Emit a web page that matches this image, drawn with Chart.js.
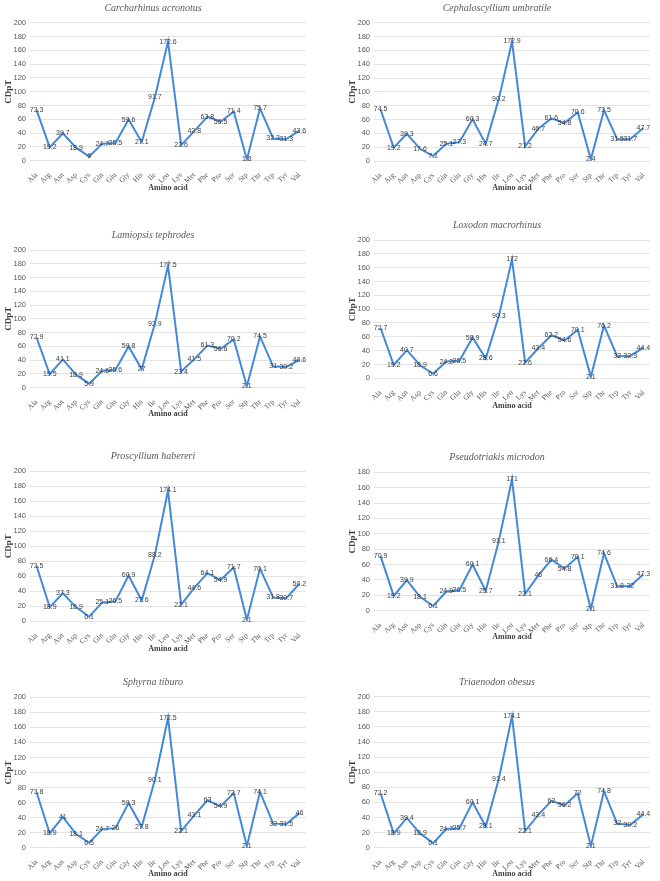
<!DOCTYPE html>
<html>
<head>
<meta charset="utf-8">
<script src="https://cdn.jsdelivr.net/npm/chart.js@4.4.1/dist/chart.umd.min.js"></script>
<style>
  body { margin: 0; background: #fff; }
  #page { position: relative; width: 660px; height: 881px; overflow: hidden; }
  canvas { position: absolute; }
</style>
</head>
<body>
<div id="page"></div>
<script>
const aminoAcids = ["Ala", "Arg", "Asn", "Asp", "Cys", "Gln", "Glu", "Gly", "His", "Ile", "Leu",
  "Lys", "Met", "Phe", "Pro", "Ser", "Stp", "Thr", "Trp", "Tyr", "Val"];

const speciesNames = ["Carcharhinus acronotus", "Cephaloscyllium umbratile", "Lamiopsis tephrodes",
  "Loxodon macrorhinus", "Proscyllium habereri", "Pseudotriakis microdon", "Sphyrna tiburo",
  "Triaenodon obesus"];

const carcharhinus = [73.3, 19.2, 39.7, 18.9, 6, 24.7, 25.5, 59.6, 27.1, 91.7, 172.6, 22.6, 42.8, 63.8, 56.5, 71.4, 1.8, 75.7, 32.3, 31.3, 43.6];
const cephaloscyllium = [74.5, 19.2, 39.3, 17.6, 7.1, 25.1, 27.3, 60.3, 24.7, 90.2, 172.9, 21.2, 46.7, 61.6, 54.8, 70.6, 2.4, 73.5, 31.5, 31.7, 47.7];
const lamiopsis = [72.9, 19.5, 41.1, 18.9, 5.9, 24.6, 25.6, 59.8, 27, 92.9, 177.5, 23.4, 41.5, 61.3, 56.6, 70.2, 2.1, 74.5, 31, 30.2, 40.6];
const loxodon = [72.7, 19.2, 40.7, 18.9, 6.6, 24.2, 25.5, 58.9, 28.6, 90.3, 172, 22.6, 43.4, 62.2, 54.6, 70.1, 2.1, 76.2, 32, 32.3, 44.4];
const proscyllium = [73.5, 18.9, 37.3, 18.9, 6.1, 25.1, 26.5, 60.9, 27.6, 88.2, 174.1, 22.1, 44.6, 64.1, 54.9, 71.7, 2.1, 70.1, 31.8, 30.7, 50.2];
const pseudotriakis = [70.9, 19.2, 39.9, 18.1, 6.1, 24.9, 26.5, 60.1, 25.7, 91.1, 171, 22.1, 46, 66.4, 54.8, 70.1, 2.1, 74.6, 31.8, 32, 47.3];
const sphyrna = [73.8, 18.9, 41, 18.1, 6.5, 24.7, 26, 59.3, 27.8, 90.1, 172.5, 22.1, 43.1, 63, 54.9, 72.7, 2.1, 74.1, 32, 31.5, 46];
const triaenodon = [72.2, 18.9, 39.4, 18.9, 6.1, 24.7, 25.7, 60.1, 28.1, 91.4, 174.1, 22.1, 43.4, 62, 56.2, 72, 2.1, 74.8, 32, 30.2, 44.4];

const seriesList = [carcharhinus, cephaloscyllium, lamiopsis, loxodon, proscyllium, pseudotriakis, sphyrna, triaenodon];
const yMaxList = [200, 200, 200, 200, 200, 180, 200, 200];

// where each panel sits on the page: column, title centre, plot top, plot bottom, x title centre
const panelLayout = [
  [0, 7.5, 22.7, 160.7, 187.7],
  [1, 8, 22.7, 161, 188.3],
  [0, 235, 250, 387.7, 414],
  [1, 225, 240, 378.3, 406],
  [0, 455.7, 471, 621.3, 649],
  [1, 457.3, 472.3, 610.7, 637],
  [0, 682.3, 697.3, 847.7, 874.3],
  [1, 682.3, 696.7, 847.7, 874.3],
];

const columnLeft = [0, 344];
const canvasWidth = 310;
const padRight = 4;
const yAxisWidth = 30;

Chart.defaults.font.family = "'Liberation Sans', Arial, sans-serif";

const pointLabels = {
  id: "pointLabels",
  afterDatasetsDraw(chart) {
    const ctx = chart.ctx;
    const meta = chart.getDatasetMeta(0);
    const values = chart.data.datasets[0].data;
    ctx.save();
    ctx.font = "7px 'Liberation Sans', Arial, sans-serif";
    ctx.fillStyle = "#404040";
    ctx.textAlign = "center";
    ctx.textBaseline = "middle";
    meta.data.forEach((pt, i) => ctx.fillText(String(values[i]), pt.x, pt.y));
    ctx.restore();
  },
};

function drawPanel(index) {
  const [col, titleY, plotTop, plotBottom, xTitleY] = panelLayout[index];
  const top = Math.round(titleY - 6);
  const bottom = Math.round(xTitleY + 6.8);
  const canvas = document.createElement("canvas");
  canvas.width = canvasWidth;
  canvas.height = bottom - top;
  canvas.style.left = columnLeft[col] + "px";
  canvas.style.top = top + "px";
  document.getElementById("page").appendChild(canvas);

  new Chart(canvas, {
    type: "line",
    data: {
      labels: aminoAcids,
      datasets: [
        {
          data: seriesList[index],
          borderColor: "#4389d9",
          borderWidth: 2,
          pointRadius: 0,
          tension: 0,
        },
      ],
    },
    options: {
      responsive: false,
      animation: false,
      layout: { padding: { left: 0, right: padRight, top: 0, bottom: 0 } },
      plugins: {
        legend: { display: false },
        tooltip: { enabled: false },
        title: {
          display: true,
          text: speciesNames[index],
          color: "#595959",
          font: { family: "'Liberation Serif', serif", style: "italic", size: 10, weight: "normal" },
          padding: { top: 0, bottom: plotTop - top - 12 },
        },
      },
      scales: {
        x: {
          offset: true,
          grid: { display: false },
          border: { display: false },
          ticks: {
            autoSkip: false,
            minRotation: 45,
            maxRotation: 45,
            padding: 2,
            color: "#595959",
            font: { family: "'Liberation Serif', serif", size: 7.5 },
          },
          title: {
            display: true,
            text: "Amino acid",
            color: "#404040",
            font: { family: "'Liberation Serif', serif", size: 8, weight: "bold" },
            padding: { top: 0, bottom: 2 },
          },
          afterFit: (scale) => {
            scale.height = bottom - plotBottom;
          },
        },
        y: {
          min: 0,
          max: yMaxList[index],
          grid: { color: "#e4e4e4", drawTicks: false },
          border: { display: false },
          ticks: {
            stepSize: 20,
            padding: 4,
            color: "#595959",
            font: { size: 7.5 },
          },
          title: {
            display: true,
            text: "CDpT",
            color: "#404040",
            font: { family: "'Liberation Serif', serif", size: 9, weight: "bold" },
            padding: { top: 3, bottom: 0 },
          },
          afterFit: (scale) => {
            scale.width = yAxisWidth;
          },
        },
      },
    },
    plugins: [pointLabels],
  });
}

seriesList.forEach((_, i) => drawPanel(i));
</script>
</body>
</html>
